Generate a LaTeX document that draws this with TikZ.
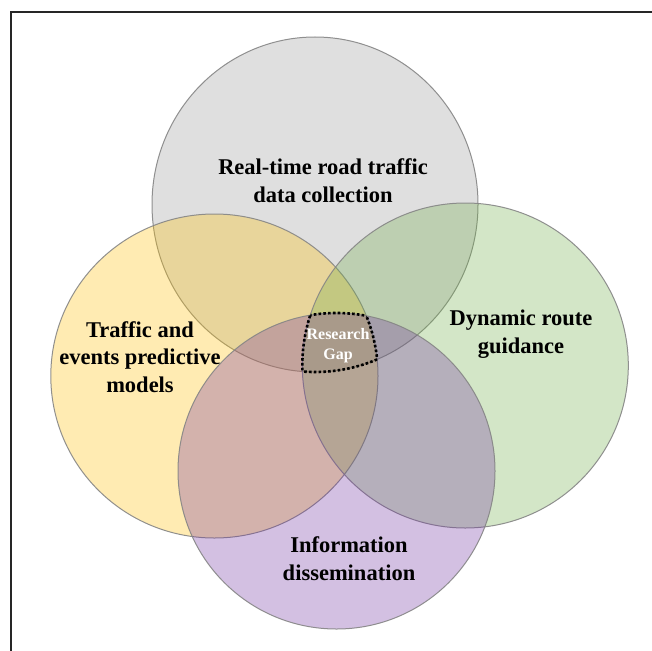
\documentclass[tikz,border=0pt]{standalone}
\usepackage{fontspec}
\setmainfont{Liberation Serif}
\definecolor{cgray}{HTML}{969696}
\definecolor{cgold}{HTML}{FFC000}
\definecolor{cgreen}{HTML}{70AD47}
\definecolor{cpurple}{HTML}{7030A0}
\definecolor{cedge}{HTML}{858585}
\tikzset{
  setfill/.style={fill=#1, fill opacity=0.3, draw=cedge, draw opacity=0.9, line width=1pt},
  gapline/.style={draw=black, line width=2.6pt, dash pattern=on 2.6pt off 2.2pt},
  lbl/.style={font=\bfseries\fontsize{22.5}{27.5}\selectfont, align=center, text=black, anchor=base},
  gaplbl/.style={font=\bfseries\fontsize{16}{20}\selectfont, align=center, text=white, anchor=base}
}
\begin{document}
\begin{tikzpicture}[x=1pt,y=-1pt]
\clip (0,0) rectangle (652,650);
\fill[white] (0,0) rectangle (652,650);
\draw[line width=1.3pt, draw=black!85] (11,660) -- (11,12) -- (660,12);
\coordinate (cG) at (315,204.5);
\coordinate (cY) at (214.4,376);
\coordinate (cR) at (465.3,365.5);
\coordinate (cP) at (336.5,471);
% sets
\path[setfill=cgray] (cG) ellipse [x radius=163pt, y radius=167.5pt];
\path[setfill=cgold] (cY) ellipse [x radius=163.6pt, y radius=162pt];
\path[setfill=cgreen] (cR) ellipse [x radius=163pt, y radius=162.5pt];
\path[setfill=cpurple] (cP) ellipse [x radius=158.5pt, y radius=158pt];
% research gap outline: boundary of the four-set intersection
\begin{scope}
 \clip (cY) ellipse [x radius=163.6pt, y radius=162pt];
 \clip (cR) ellipse [x radius=163pt, y radius=162.5pt];
 \clip (cP) ellipse [x radius=158.5pt, y radius=158pt];
 \draw[gapline] (cG) ellipse [x radius=163pt, y radius=167.5pt];
\end{scope}
\begin{scope}
 \clip (cG) ellipse [x radius=163pt, y radius=167.5pt];
 \clip (cR) ellipse [x radius=163pt, y radius=162.5pt];
 \clip (cP) ellipse [x radius=158.5pt, y radius=158pt];
 \draw[gapline] (cY) ellipse [x radius=163.6pt, y radius=162pt];
\end{scope}
\begin{scope}
 \clip (cG) ellipse [x radius=163pt, y radius=167.5pt];
 \clip (cY) ellipse [x radius=163.6pt, y radius=162pt];
 \clip (cP) ellipse [x radius=158.5pt, y radius=158pt];
 \draw[gapline] (cR) ellipse [x radius=163pt, y radius=162.5pt];
\end{scope}
\begin{scope}
 \clip (cG) ellipse [x radius=163pt, y radius=167.5pt];
 \clip (cY) ellipse [x radius=163.6pt, y radius=162pt];
 \clip (cR) ellipse [x radius=163pt, y radius=162.5pt];
 \draw[gapline] (cP) ellipse [x radius=158.5pt, y radius=158pt];
\end{scope}
% labels (anchor=base sits on the last line's baseline)
\node[lbl] (tG) at (323,202) {Real-time road traffic\\data collection};
\node[lbl] (tY) at (140,392) {Traffic and\\events predictive\\models};
\node[lbl] (tR) at (521,353) {Dynamic route\\guidance};
\node[lbl] (tP) at (349,580) {Information\\dissemination};
\node[gaplbl] (tgap) at (338,359) {Research\\Gap};
\end{tikzpicture}
\end{document}
